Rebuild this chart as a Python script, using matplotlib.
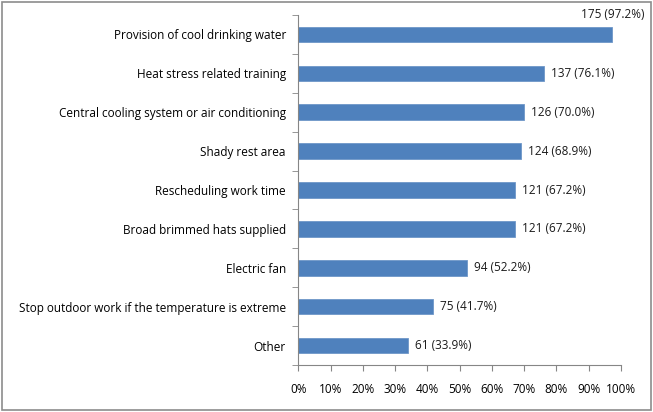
import matplotlib.pyplot as plt
import numpy as np
from matplotlib.patches import Rectangle
from matplotlib.ticker import FixedLocator

categories = ['Provision of cool drinking water',
              'Heat stress related training',
              'Central cooling system or air conditioning',
              'Shady rest area',
              'Rescheduling work time',
              'Broad brimmed hats supplied',
              'Electric fan',
              'Stop outdoor work if the temperature is extreme',
              'Other']
counts = [175, 137, 126, 124, 121, 121, 94, 75, 61]
percents = [97.2, 76.1, 70.0, 68.9, 67.2, 67.2, 52.2, 41.7, 33.9]

plt.rcParams['font.family'] = ['Open Sans', 'DejaVu Sans']
plt.rcParams['font.size'] = 8.5

fig = plt.figure(figsize=(6.53, 4.12), dpi=100)
ax = fig.add_axes([0.457, 0.114, 0.494, 0.8496])

y = np.arange(len(categories))
ax.barh(y, percents, height=0.4, color='#4F81BD', edgecolor='#6f97c8', linewidth=0.6)
ax.set_ylim(len(categories) - 0.5, -0.5)
ax.set_xlim(0, 100)

ax.set_yticks(y)
ax.set_yticklabels(categories)
ax.tick_params(axis='y', length=0, pad=9)
ax.yaxis.set_minor_locator(FixedLocator(np.arange(-0.5, len(categories), 1)))
ax.tick_params(axis='y', which='minor', length=4, direction='out', color='#868686')

ax.set_xticks(np.arange(0, 101, 10))
ax.set_xticklabels([f'{v}%' for v in range(0, 101, 10)])
ax.tick_params(axis='x', length=4, color='#868686', pad=9)

for side in ['top', 'right']:
    ax.spines[side].set_visible(False)
for side in ['left', 'bottom']:
    ax.spines[side].set_color('#868686')
    ax.spines[side].set_linewidth(0.8)

for i, (c, p) in enumerate(zip(counts, percents)):
    label = f'{c} ({p:.1f}%)'
    if i == 0:
        ax.annotate(label, xy=(p, i), xytext=(-22, 14), textcoords='offset points',
                    ha='left', va='center', color='#1a1a1a')
    else:
        ax.annotate(label, xy=(p, i), xytext=(5, 0), textcoords='offset points',
                    ha='left', va='center', color='#1a1a1a')

fig.patches.append(Rectangle((0.003, 0.004), 0.994, 0.992, transform=fig.transFigure,
                             fill=False, edgecolor='#8c8c8c', linewidth=1.2))

plt.savefig('out.png', dpi=100)
